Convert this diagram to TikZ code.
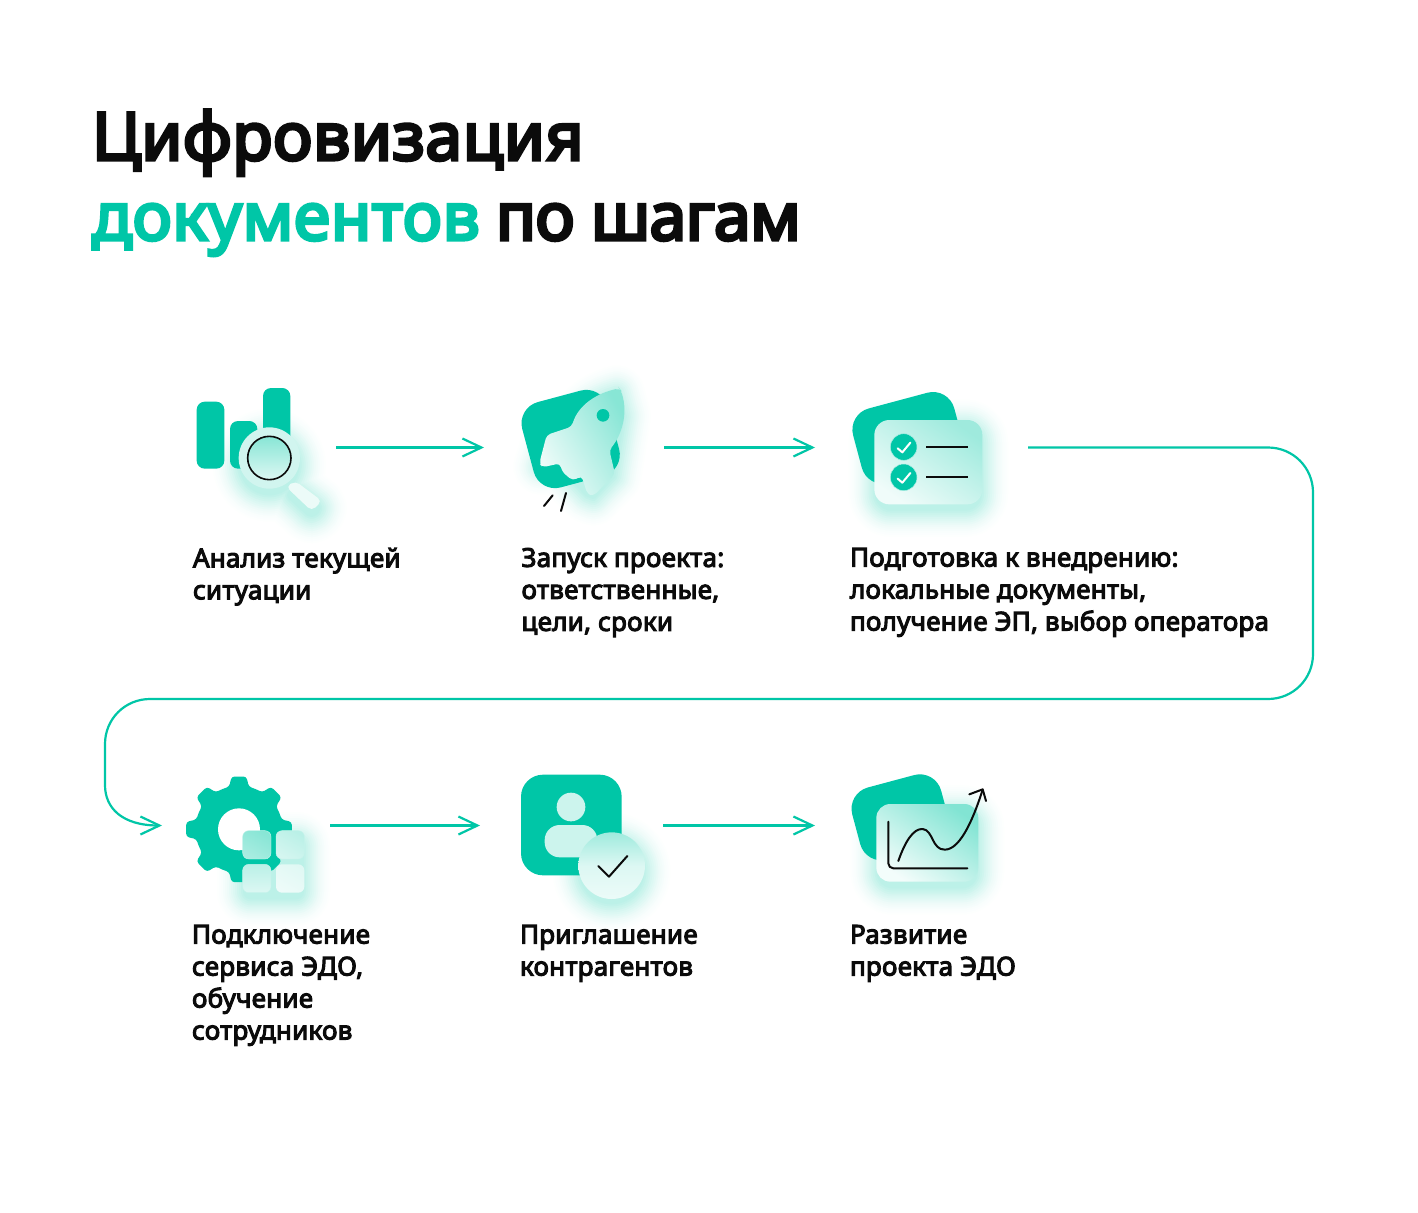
\documentclass[tikz,border=0pt]{standalone}
\usepackage{fontspec}
\usetikzlibrary{arrows.meta}
\setmainfont{Noto Sans}
\newfontfamily\titlefont{Noto Sans}[FakeBold=5,LetterSpace=1]
\newfontfamily\titlefontb{Noto Sans}[FakeBold=5,LetterSpace=-0.9]
\newfontfamily\bodyfont{Noto Sans}[FakeBold=4,LetterSpace=0.9]
\definecolor{teal}{HTML}{00C6A7}
\definecolor{ink}{HTML}{0B0B0B}
\definecolor{glowc}{HTML}{3FD6BC}
% soft glow: nested opaque outlines from wide and pale to narrow and strong
\newcommand\softglow[2][0]{%
  \foreach \w/\p in {56/1,52/2,48/3,44/5,40/7,36/9,32/12,28/15,24/18,20/21,16/25,12/28,8/32,4/35}{%
    \path[draw=glowc!\p!white,fill=glowc!\p!white,line width=\w pt,line join=round,yshift=-#1pt] #2;}}
\tikzset{
  every node/.style={inner sep=0pt,outer sep=0pt},
  slot/.style={minimum height=2pt,minimum width=#1,draw=none},
  conn/.style={draw=teal,line width=2.2pt,-{Straight Barb[length=19pt,width=18pt,line width=2.2pt]}},
  label/.style={anchor=north west,align=left,text=ink,font=\bodyfont\fontsize{26}{32}\selectfont},
  heading/.style={anchor=base west,text=ink,font=\titlefont\fontsize{66}{80}\selectfont},
  inkline/.style={draw=ink,line width=2pt,line cap=round,line join=round},
  zA/.style={shift={(170,370)},x=.33333pt,y=-.33333pt},
  zB/.style={shift={(500,370)},x=.33333pt,y=-.33333pt},
  zC/.style={shift={(830,370)},x=.33333pt,y=-.33333pt},
  zD/.style={shift={(170,760)},x=.33333pt,y=-.33333pt},
  zE/.style={shift={(500,760)},x=.33333pt,y=-.33333pt},
  zF/.style={shift={(830,760)},x=.33333pt,y=-.33333pt},
}
\begin{document}
\begin{tikzpicture}[x=1pt,y=-1pt]
\useasboundingbox[fill=white] (0,0) rectangle (1418,1212);

% ---------- title
\node[heading] (title1) at (92,160) {Цифровизация};
\node[heading,text=teal] (title2) at (92,240) {документов};
\node[heading,font=\titlefontb\fontsize{66}{80}\selectfont] (title3) at (496,240) {по шагам};

% ---------- layout slots (invisible anchors for the connectors)
\node[slot=146pt] (icon1) at (263,447.5) {};
\node[slot=180pt] (icon2) at (574,447.5) {};
\node[slot=213pt] (icon3) at (921.5,447.5) {};
\node[slot=168pt] (icon4) at (246,825.5) {};
\node[slot=183pt] (icon5) at (571.5,825.5) {};
\node[slot=175pt] (icon6) at (902.5,825.5) {};

% ---------- icon 1: bars + magnifier
\begin{scope}[zA]
  \softglow[7]{(298,264) circle (85) [rounded corners=5pt] (350,352) -- (378,335) -- (452,393) -- (425,420) -- cycle}
  \fill[teal,rounded corners=8pt] (80,95) rectangle (163,296);
  \fill[teal,rounded corners=8pt] (279,54) rectangle (361,250);
  \fill[teal,rounded corners=8pt] (180,153) rectangle (262,296);
  \fill[white!90!glowc,rounded corners=5pt] (348,350) -- (376,333) -- (456,393) -- (425,423) -- cycle;
  \fill[glowc!24] (298,264) circle (92);
  \shade[top color=glowc!62,bottom color=glowc!18] (298,264) circle (65);
  \draw[ink,line width=1.6pt] (298,264) circle (65);
\end{scope}

% ---------- icon 2: rocket
\begin{scope}[zB]
  \softglow[3]{(350,62) .. controls (290,80) and (240,110) .. (220,175) -- (150,200) -- (125,280) -- (180,280) -- (262,365) -- (280,372) -- (340,310) -- (368,130) -- cycle}
  \fill[teal,rounded corners=22pt,rotate around={15:(212,207)}] (79.5,74.5) rectangle (344.5,339.5);
  \shade[left color=glowc!62,right color=white!92!glowc,shading angle=300,rounded corners=4pt]
    (358,55) .. controls (290,70) and (235,105) .. (215,170) -- (140,195) -- (118,280) -- (127,292) -- (180,280)
    -- (186,305) -- (218,332) -- (245,318) -- (262,372) -- (280,378) -- (345,312) -- (328,240)
    .. controls (365,195) and (385,130) .. (362,60) -- cycle;
  \fill[teal] (309,136) circle (19);
  \draw[inkline] (158,376) -- (132,408);
  \draw[inkline] (198,369) -- (183,423);
\end{scope}

% ---------- icon 3: checklist card
\begin{scope}[zC]
  \softglow[6]{[rounded corners=15pt] (140,155) rectangle (450,398)}
  \fill[teal,rounded corners=22pt,rotate around={15:(233,200)}] (76,88) rectangle (390,320);
  \shade[top color=glowc!50,bottom color=white!92!glowc,shading angle=-35,rounded corners=15pt] (133,150) rectangle (457,403);
  \foreach \yy in {231,322}{
    \fill[teal,draw=white!70!teal,line width=.5pt] (221,\yy) circle (40);
    \draw[white,line width=2pt,line cap=round,line join=round] (203,\yy+4) -- (217,\yy+16) -- (241,\yy-13);
    \draw[ink,line width=2pt] (288,\yy) -- (415,\yy);
  }
\end{scope}

% ---------- icon 4: gear + tiles
\begin{scope}[zD]
  \softglow[7]{[rounded corners=6pt] (225,219) rectangle (396,391)}
  \begin{scope}[shift={(207,208)}]
    \fill[teal,rounded corners=3pt] (22.5:131)
      \foreach \a in {45,90,...,360}{
        -- (\a-13:131) -- (\a-8:160) -- (\a+8:160) -- (\a+13:131) -- (\a+22.5:131)
      } -- cycle;
    \fill[white] (0,0) circle (63);
  \end{scope}
  \shade[top color=glowc!62,bottom color=glowc!45,shading angle=-30,rounded corners=6pt,draw=white!70!glowc,line width=.4pt] (218,212) rectangle (303,297);
  \shade[top color=glowc!36,bottom color=glowc!22,shading angle=-30,rounded corners=6pt,draw=white!70!glowc,line width=.4pt] (318,212) rectangle (403,297);
  \shade[top color=glowc!36,bottom color=glowc!18,shading angle=0,rounded corners=6pt,draw=white!70!glowc,line width=.4pt] (218,313) rectangle (303,398);
  \shade[top color=glowc!16,bottom color=glowc!9,shading angle=-30,rounded corners=6pt] (318,313) rectangle (403,398);
\end{scope}

% ---------- icon 5: contact + check
\begin{scope}[zE]
  \softglow[6]{(335,317) circle (92)}
  \fill[teal,rounded corners=22pt] (63,44) rectangle (365,346);
  \fill[white!80!teal] (213,141) circle (43);
  \fill[white!80!teal,rounded corners=15pt] (134,195) rectangle (292,292);
  \shade[top color=glowc!50,bottom color=white!90!glowc,middle color=white!82!glowc] (335,317) circle (100);
  \draw[inkline] (295,318) -- (327,350) -- (382,288);
\end{scope}

% ---------- icon 6: chart card
\begin{scope}[zF]
  \softglow[7]{[rounded corners=14pt] (146,139) rectangle (438,358)}
  \fill[teal,rounded corners=22pt,rotate around={15:(212,172)}] (74,60) rectangle (350,284);
  \shade[top color=glowc!65,bottom color=white!94!glowc,shading angle=-35,rounded corners=14pt] (139,132) rectangle (445,365);
  \draw[inkline,rounded corners=5pt] (175,185) -- (175,325) -- (412,325);
  \draw[inkline] (205,303) .. controls (225,245) and (250,205) .. (278,207)
     .. controls (310,210) and (305,270) .. (345,269)
     .. controls (395,268) and (435,160) .. (457,92);
  \draw[inkline] (418,103) -- (458,88) -- (468,123);
\end{scope}

% ---------- connectors
\draw[conn] (icon1.east) -- (icon2.west);
\draw[conn] (icon2.east) -- (icon3.west);
\draw[conn] (icon4.east) -- (icon5.west);
\draw[conn] (icon5.east) -- (icon6.west);
\coordinate (c1) at (1268,447.5);
\coordinate (c2) at (1313,492.5);
\coordinate (c3) at (1313,654);
\coordinate (c4) at (1268,699);
\coordinate (c5) at (150,699);
\coordinate (c6) at (105,744);
\coordinate (c7) at (105,785);
\draw[conn] (icon3.east) -- (c1) .. controls (1293,447.5) and (1313,467.5) .. (c2)
   -- (c3) .. controls (1313,679) and (1293,699) .. (c4)
   -- (c5) .. controls (125,699) and (105,719) .. (c6)
   -- (c7) .. controls (105,808) and (122,825.5) .. (icon4.west);

% ---------- labels
\node[label] (t1) at (193,548) {Анализ текущей\\ситуации};
\node[label] (t2) at (521.5,548) {Запуск проекта:\\ответственные,\\цели, сроки};
\node[label] (t3) at (850,548) {Подготовка к внедрению:\\локальные документы,\\получение ЭП, выбор оператора};
\node[label] (t4) at (192,925) {Подключение\\сервиса ЭДО,\\обучение\\сотрудников};
\node[label] (t5) at (520,925) {Приглашение\\контрагентов};
\node[label] (t6) at (850,925) {Развитие\\проекта ЭДО};
\end{tikzpicture}
\end{document}
